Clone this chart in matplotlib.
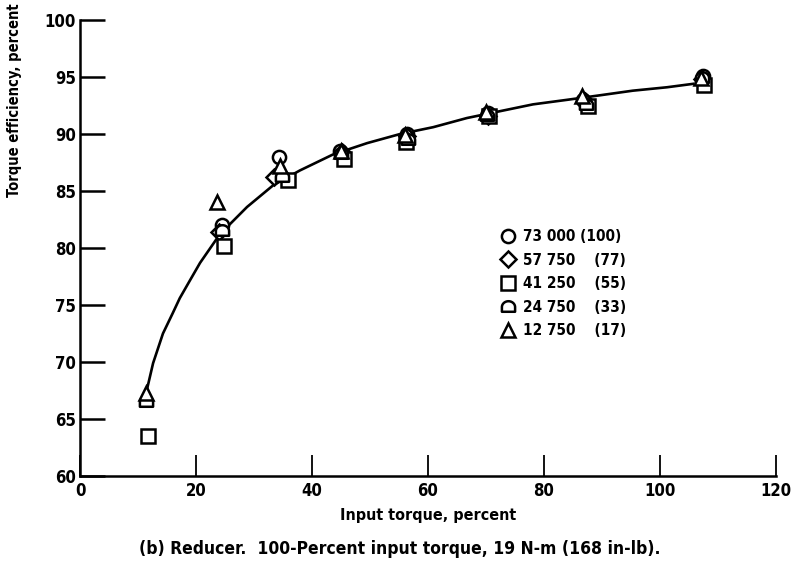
import numpy as np
import matplotlib
matplotlib.use('Agg')
from matplotlib import pyplot as plt
from matplotlib.path import Path

plt.rcParams['font.family'] = ['DejaVu Sans']
plt.rcParams['font.stretch'] = 'condensed'
plt.rcParams['font.weight'] = 'bold'
plt.rcParams['axes.labelweight'] = 'bold'

# Faired curve
curve_x = [11.5, 12.6, 14.3, 16.0, 17.2, 19.0, 20.7, 24.1, 28.8, 33.3, 37.9, 43.6,
           49.5, 55.2, 60.9, 66.7, 72.4, 78.1, 84.0, 89.7, 95.3, 101.2, 105.7]
curve_y = [67.5, 69.9, 72.5, 74.3, 75.6, 77.2, 78.7, 81.2, 83.6, 85.5, 86.8, 88.2,
           89.2, 90.0, 90.6, 91.4, 92.0, 92.6, 93.0, 93.4, 93.8, 94.1, 94.4]

# Data points by speed, rpm (percent)
circle_x = [24.5, 34.3, 44.8, 56.4, 70.3, 86.7, 107.4]
circle_y = [82.0, 88.0, 88.5, 90.0, 91.8, 93.0, 95.1]
diamond_x = [24.0, 33.5, 45.2, 56.4, 70.3, 87.0, 107.2]
diamond_y = [81.4, 86.2, 88.4, 89.8, 91.6, 92.9, 94.8]
square_x = [11.7, 24.8, 35.8, 45.5, 56.2, 70.5, 87.5, 107.5]
square_y = [63.5, 80.2, 86.0, 87.8, 89.3, 91.6, 92.5, 94.3]
bowl_x = [11.4, 24.5, 34.8, 45.0, 56.5, 70.2, 87.2, 107.2]
bowl_y = [66.6, 81.6, 86.3, 88.3, 89.6, 91.7, 92.6, 95.0]
tri_x = [11.3, 23.7, 34.5, 45.0, 56.0, 70.0, 86.5, 107.0]
tri_y = [67.3, 84.0, 87.2, 88.5, 89.9, 91.9, 93.3, 94.9]

labels = ['73 000 (100)', '57 750    (77)', '41 250    (55)', '24 750    (33)', '12 750    (17)']

# flat-bottomed circle marker
t = np.linspace(0, np.pi, 30)
verts = list(zip(np.cos(t), np.sin(t) * 0.9 - 0.1))
verts += [(-1, -0.8), (1, -0.8), (1, -0.1)]
bowl = Path(verts + [verts[0]], [Path.MOVETO] + [Path.LINETO] * (len(verts) - 1) + [Path.CLOSEPOLY])

fig = plt.figure(figsize=(7.93, 5.65), dpi=100)
ax = fig.add_axes([0.1009, 0.1575, 0.8777, 0.8071])

ax.plot(curve_x, curve_y, color='black', lw=1.9)

mk = dict(linestyle='none', mfc='white', mec='black', mew=1.8, ms=9.5)
ax.plot(circle_x, circle_y, marker='o', label=labels[0], **mk)
ax.plot(diamond_x, diamond_y, marker='D', label=labels[1], **dict(mk, ms=8))
ax.plot(square_x, square_y, marker='s', label=labels[2], **mk)
ax.plot(bowl_x, bowl_y, marker=bowl, label=labels[3], **mk)
ax.plot(tri_x, tri_y, marker='^', label=labels[4], **mk)

ax.set_xlim(0, 120)
ax.set_ylim(60, 100)
ax.set_xticks(np.arange(0, 121, 20))
ax.set_yticks(np.arange(60, 101, 5))
ax.spines['top'].set_visible(False)
ax.spines['right'].set_visible(False)
ax.spines['left'].set_linewidth(1.8)
ax.spines['bottom'].set_linewidth(1.8)
ax.tick_params(axis='y', direction='in', length=18, width=1.8, labelsize=12, pad=3)
ax.tick_params(axis='x', direction='in', length=15, width=1.3, labelsize=12, pad=4)

ax.set_xlabel('Input torque, percent', fontsize=11.5, labelpad=6)
fig.text(15 / 793, 1 - 100 / 565, 'Torque efficiency, percent', rotation=90,
         ha='center', va='center', fontsize=10.5)
fig.text(400 / 793, 1 - 549 / 565, '(b) Reducer.  100-Percent input torque, 19 N-m (168 in-lb).',
         ha='center', va='center', fontsize=12.5)

ax.legend(loc='upper left', bbox_to_anchor=(0.584, 0.571), frameon=False,
          fontsize=11, handlelength=1.0, handletextpad=0.5, labelspacing=0.55)

fig.savefig('out.png', dpi=100)
plt.close(fig)
